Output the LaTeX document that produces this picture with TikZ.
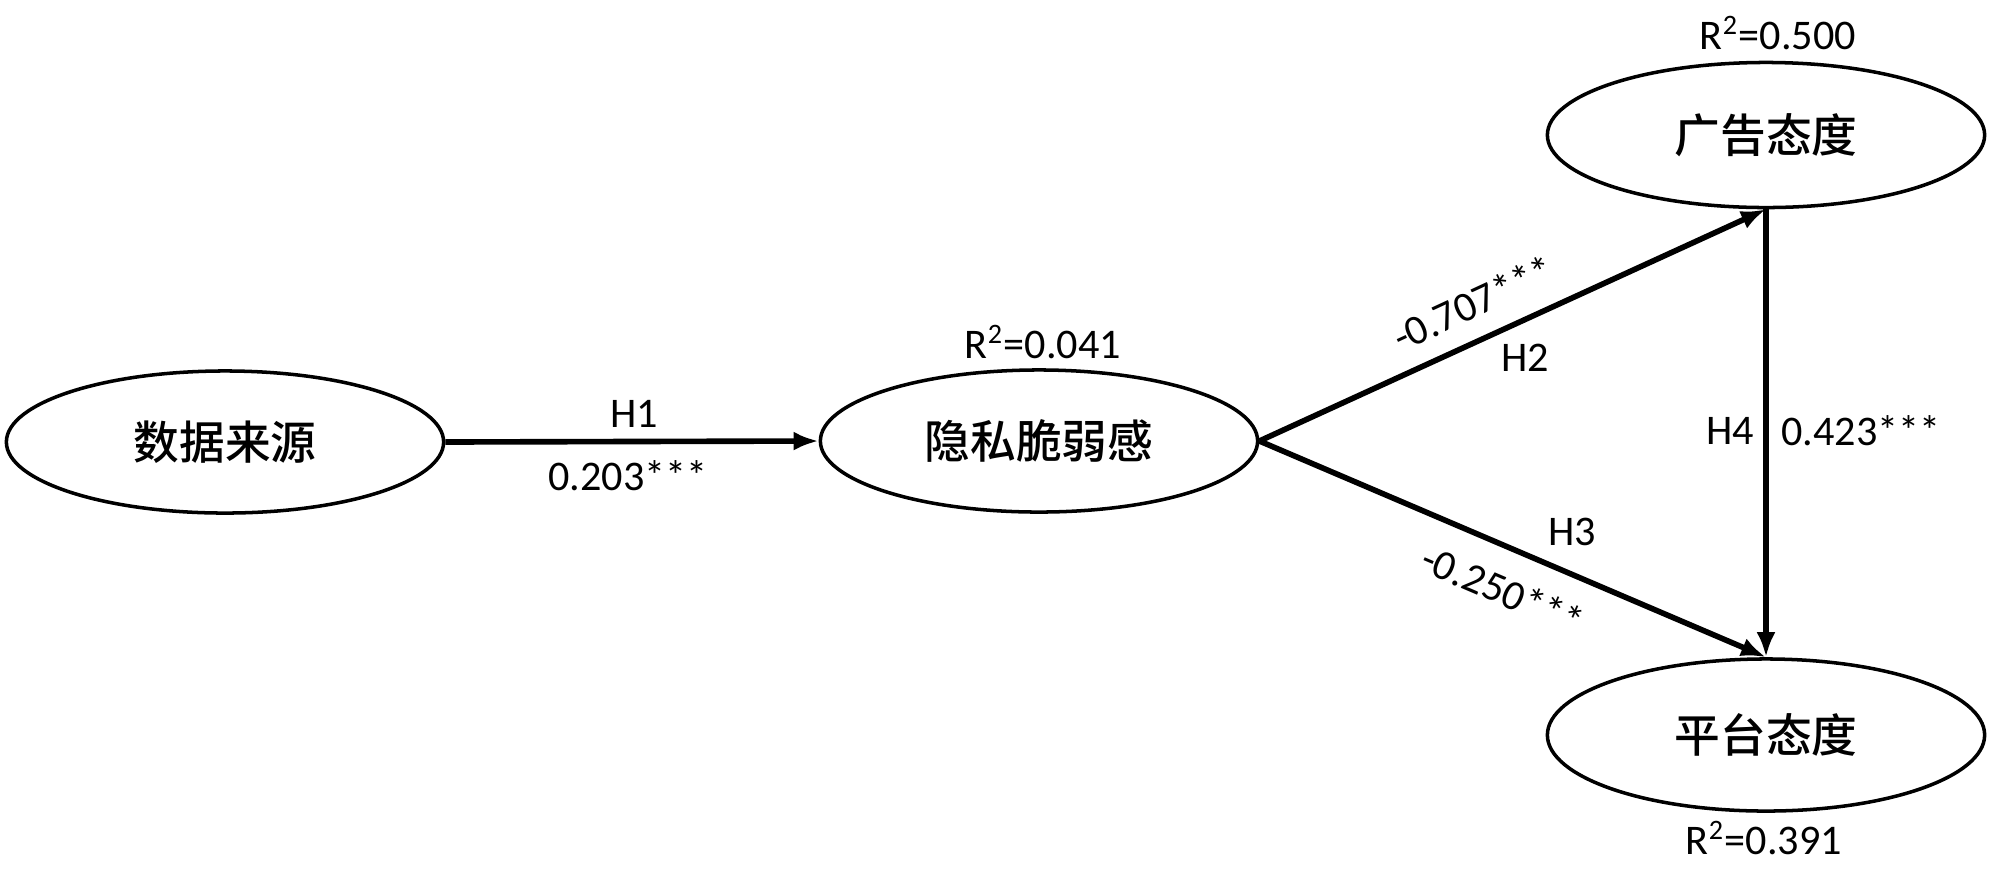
\documentclass[tikz,border=0pt]{standalone}
\usepackage{fontspec}
\setmainfont{Carlito}
\newfontfamily\cjk{Noto Sans CJK SC}[BoldFont={Noto Sans CJK SC Medium}]
\usetikzlibrary{shapes.geometric,arrows.meta}
\tikzset{
  latent/.style={ellipse, draw=black, line width=1pt, inner sep=0pt,
    minimum width=4.37cm, font=\cjk\bfseries\fontsize{13}{15}\selectfont},
  path/.style={line width=1.6pt, -{Latex[length=0.25cm,width=0.19cm]}},
  lab/.style={font=\fontsize{12}{14}\selectfont, inner sep=0pt}
}
\begin{document}
\begin{tikzpicture}[x=0.01cm,y=-0.01cm]
\useasboundingbox (0,0) rectangle (2000,872);
\node[latent, minimum height=1.42cm] (ds) at (225,442) {数据来源};
\node[latent, minimum height=1.42cm] (pv) at (1039,441) {隐私脆弱感};
\node[latent, minimum height=1.45cm] (ad) at (1766,135) {广告态度};
\node[latent, minimum height=1.52cm] (pl) at (1766,735) {平台态度};

\draw[path] (ds.east) -- (pv.west);
\draw[path] (pv.east) -- (ad.south);
\draw[path] (pv.east) -- (pl.north);
\draw[path] (ad.south) -- (pl.north);

\node[lab] (r1) at (1043,342) {R\textsuperscript{2}=0.041};
\node[lab] (r2) at (1778,33) {R\textsuperscript{2}=0.500};
\node[lab] (r3) at (1764,838) {R\textsuperscript{2}=0.391};

\node[lab] (h1) at (634,414) {H1};
\node[lab] (c1) at (628,476) {0.203***};
\node[lab] (h2) at (1525,358) {H2};
\node[lab, rotate=24.8] (c2) at (1473,303) {-0.707***};
\node[lab] (h3) at (1572,532) {H3};
\node[lab, rotate=-23.2] (c3) at (1503,590) {-0.250***};
\node[lab] (h4) at (1730,431) {H4};
\node[lab] (c4) at (1861,431) {0.423***};
\end{tikzpicture}
\end{document}
